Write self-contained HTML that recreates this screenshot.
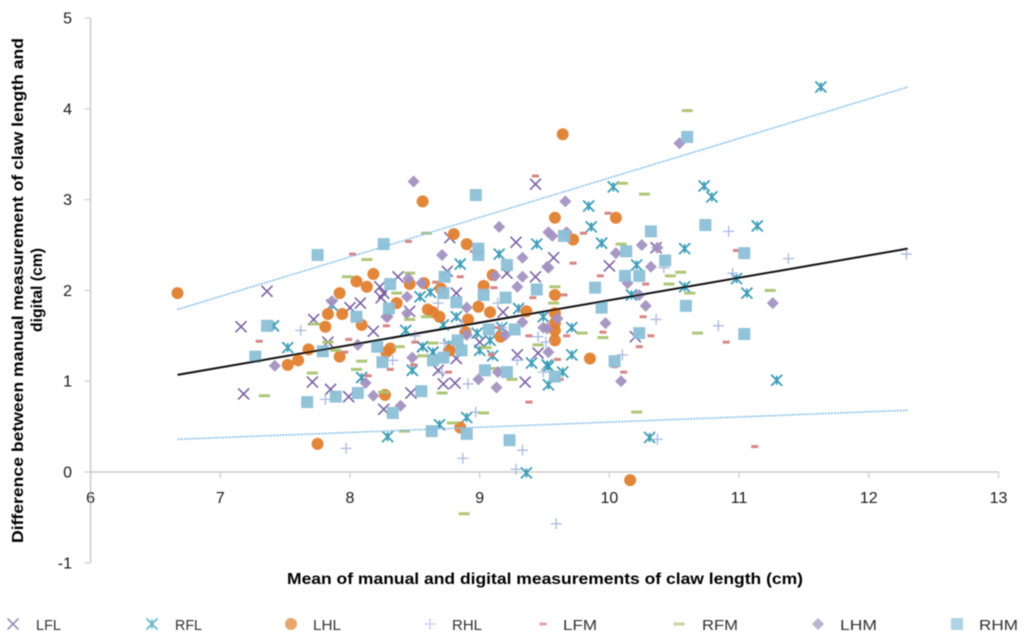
<!DOCTYPE html>
<html lang="en">
<head>
<meta charset="utf-8">
<title>Claw length scatter chart</title>
<style>
html,body{margin:0;padding:0;background:#fff;}
body{width:1024px;height:639px;overflow:hidden;}
svg{display:block;}
text{font-family:"Liberation Sans",sans-serif;}
</style>
</head>
<body>
<svg id="chart" xmlns="http://www.w3.org/2000/svg" width="1024" height="639" viewBox="0 0 1024 639">
  <defs>
    <filter id="soft" x="0" y="0" width="1024" height="639" filterUnits="userSpaceOnUse" primitiveUnits="userSpaceOnUse">
      <feGaussianBlur stdDeviation="0.55"/>
    </filter>
  </defs>
  <rect width="1024" height="639" fill="#fff"/>
  <g id="root" filter="url(#soft)">
    <g id="axes"></g>
    <g id="marks"></g>
    <g id="lines"></g>
    <text x="287" y="584" font-size="15.5" font-weight="700" fill="#000" textLength="516" lengthAdjust="spacingAndGlyphs">Mean of manual and digital measurements of claw length (cm)</text>
    <text transform="translate(23,543) rotate(-90)" font-size="15.5" font-weight="700" fill="#000" textLength="505" lengthAdjust="spacingAndGlyphs">Difference between manual measurement of claw length and</text>
    <text transform="translate(42,332) rotate(-90)" font-size="15.5" font-weight="700" fill="#000" textLength="84" lengthAdjust="spacingAndGlyphs">digital (cm)</text>
    <g id="legend"></g>
  </g>
</svg>
<script>
const xTicks = [6, 7, 8, 9, 10, 11, 12, 13];
const yTicks = [-1, 0, 1, 2, 3, 4, 5];

const LFL = [[7.36,1.99],[7.16,1.60],[7.72,1.68],[8.08,1.86],[8.00,1.81],[8.18,1.55],[8.23,2.04],[8.24,1.92],[7.83,1.43],[7.18,0.86],[7.71,0.99],[7.85,0.91],[7.99,0.83],[8.26,0.69],[8.77,2.58],[9.28,2.53],[8.75,2.21],[9.21,2.19],[9.43,2.15],[8.37,2.15],[8.82,1.97],[8.46,1.77],[9.18,1.76],[8.26,1.97],[8.56,1.38],[8.64,1.32],[9.00,1.43],[9.29,1.29],[8.72,0.97],[8.81,0.98],[8.47,0.87],[9.35,0.99],[9.45,1.31],[8.82,1.25],[8.68,1.12],[9.57,2.36],[10.00,2.27],[10.36,2.47],[10.20,1.49],[9.43,3.17]];
const RFL = [[11.63,4.24],[10.73,3.15],[10.79,3.03],[11.14,2.71],[10.98,2.13],[11.06,1.97],[11.29,1.01],[10.03,3.14],[9.84,2.93],[9.86,2.70],[9.94,2.52],[10.21,2.28],[10.58,2.46],[10.17,1.95],[10.58,2.04],[9.44,2.51],[9.15,2.40],[8.85,2.29],[9.30,1.80],[9.49,1.71],[8.54,1.93],[8.62,1.98],[8.82,1.71],[8.43,1.56],[8.98,1.53],[9.17,1.59],[8.56,1.38],[8.64,1.32],[7.86,1.84],[7.52,1.37],[7.41,1.61],[8.09,1.04],[8.29,0.39],[8.48,1.12],[8.69,0.52],[8.90,0.60],[9.36,-0.01],[9.40,1.20],[9.53,0.96],[9.52,1.18],[9.71,1.59],[9.71,1.29],[9.53,1.16],[9.64,1.10],[10.31,0.38],[9.08,1.45],[8.72,1.62],[8.76,1.40],[9.00,1.34],[9.10,1.28]];
const LHL = [[6.67,1.97],[7.75,0.31],[8.56,2.98],[9.64,3.72],[10.16,-0.09],[9.58,2.80],[10.05,2.80],[8.80,2.62],[8.90,2.51],[9.85,1.25],[8.85,0.49],[8.27,0.85],[8.18,2.18],[8.05,2.10],[7.92,1.97],[8.13,2.04],[7.83,1.74],[7.94,1.74],[7.81,1.60],[8.09,1.62],[7.92,1.27],[7.68,1.35],[7.60,1.23],[7.52,1.18],[8.31,1.36],[8.28,1.32],[8.36,1.86],[8.46,2.07],[8.57,2.08],[8.70,2.02],[9.10,2.17],[9.03,2.05],[8.99,1.82],[9.08,1.76],[9.36,1.77],[8.91,1.68],[8.60,1.79],[8.69,1.71],[8.89,1.54],[9.16,1.49],[8.77,1.34],[9.72,2.56],[9.58,1.95],[9.58,1.75],[9.58,1.64],[9.58,1.56],[9.58,1.45],[8.64,1.76]];
const RHL = [[10.92,2.65],[11.38,2.35],[12.29,2.40],[10.95,2.19],[10.84,1.61],[10.36,1.68],[10.10,1.29],[9.51,1.43],[9.49,1.10],[10.42,2.25],[7.62,1.56],[7.81,0.80],[7.97,0.26],[8.91,0.97],[8.97,0.66],[9.33,0.24],[8.87,0.15],[9.28,0.03],[8.33,1.23],[9.29,1.23],[8.71,1.09],[9.59,-0.57],[10.37,0.36],[8.73,1.42],[8.68,1.86],[9.45,1.49],[9.14,1.86],[9.17,1.59],[8.86,1.62],[8.50,1.50]];
const LFM = [[8.02,2.40],[8.45,2.54],[7.30,1.44],[7.99,1.46],[8.28,1.61],[7.96,1.32],[8.85,2.15],[8.95,2.43],[9.11,2.03],[9.41,1.92],[8.66,2.09],[8.50,1.43],[9.38,1.50],[9.13,1.59],[9.72,2.30],[9.80,2.63],[9.99,2.85],[9.93,2.16],[10.28,2.07],[10.26,1.71],[9.65,1.95],[9.95,1.54],[9.67,1.50],[10.32,1.50],[10.23,1.38],[9.60,1.24],[10.04,1.16],[10.11,1.10],[9.62,1.02],[10.98,2.44],[10.90,1.43],[11.12,0.28],[8.14,1.06],[8.31,1.13],[8.76,1.10],[9.38,0.77],[9.09,1.29],[8.49,1.18],[9.43,3.26]];
const RFM = [[8.13,2.34],[8.59,2.63],[7.98,2.15],[7.73,1.63],[7.83,1.43],[7.89,1.34],[7.34,0.84],[7.71,1.09],[8.09,1.22],[8.05,1.13],[8.26,0.88],[8.46,2.19],[8.36,1.97],[8.59,1.71],[8.46,1.68],[8.64,1.42],[8.38,1.38],[8.56,1.28],[9.45,1.40],[9.05,1.37],[10.10,3.18],[10.27,3.06],[10.09,2.51],[10.55,2.20],[10.47,2.16],[10.46,2.07],[10.62,1.97],[9.58,2.04],[9.57,1.86],[9.79,1.53],[9.95,1.48],[10.68,1.53],[10.21,0.66],[10.60,3.98],[8.88,-0.46],[11.24,2.00],[8.42,0.45],[8.71,0.87],[8.79,0.54],[9.03,0.65],[9.25,1.02],[9.12,1.14]];
const LHM = [[8.49,3.20],[8.71,2.39],[7.86,1.88],[8.06,1.40],[8.29,1.71],[7.42,1.17],[8.12,0.98],[8.18,0.84],[9.33,2.36],[9.12,2.16],[9.33,2.15],[9.29,2.04],[9.52,2.26],[8.45,2.13],[8.55,2.08],[8.44,1.93],[8.90,1.81],[8.44,1.75],[8.28,1.71],[9.33,1.65],[9.20,1.51],[9.49,1.59],[8.90,1.51],[9.66,2.98],[9.53,2.64],[9.56,2.60],[9.67,2.64],[10.05,2.41],[10.25,2.50],[10.37,2.47],[10.32,2.26],[10.14,2.08],[9.53,2.25],[10.23,1.95],[10.28,1.83],[9.60,1.69],[9.52,1.58],[9.97,1.64],[9.53,1.32],[10.09,1.00],[11.26,1.86],[10.54,3.62],[8.99,1.02],[9.13,0.93],[8.39,0.73],[9.14,1.10],[8.48,1.26],[9.15,2.70]];
const RHM = [[10.60,3.69],[8.97,3.05],[7.75,2.39],[7.36,1.61],[7.27,1.27],[8.26,2.51],[8.05,1.71],[7.79,1.33],[8.21,1.38],[8.99,2.46],[8.99,2.39],[9.21,2.28],[8.73,2.15],[8.31,2.07],[9.44,2.01],[8.72,1.97],[9.03,1.95],[9.20,1.92],[8.82,1.87],[8.30,1.80],[9.07,1.57],[9.27,1.57],[8.83,1.45],[8.86,1.34],[10.32,2.65],[10.74,2.72],[9.65,2.60],[10.13,2.43],[10.43,2.33],[10.12,2.16],[10.23,2.16],[9.89,2.03],[9.94,1.81],[10.59,1.83],[10.23,1.53],[10.04,1.22],[9.58,1.05],[11.04,2.41],[11.04,1.52],[7.67,0.77],[7.89,0.83],[8.06,0.87],[8.25,1.21],[8.33,0.65],[8.55,0.89],[8.63,0.45],[8.90,0.42],[9.23,0.35],[9.04,1.12],[9.21,1.10],[8.64,1.23],[8.72,1.26]];

const trendMean = [[6.67,1.07],[12.30,2.46]];
const trendUpper = [[6.67,1.79],[12.30,4.24]];
const trendLower = [[6.67,0.36],[12.30,0.68]];

const NS = 'http://www.w3.org/2000/svg';
function sx(v){ return 90.6 + (v - 6) * 129.7; }
function sy(v){ return 472 - v * 90.8; }

function mk(parent, tag, attrs, text){
  const el = document.createElementNS(NS, tag);
  for (const k in attrs) el.setAttribute(k, attrs[k]);
  if (text !== undefined) el.textContent = text;
  parent.appendChild(el);
  return el;
}

const glyphs = {
  x(g, cx, cy){
    const d = `M${cx-5.5} ${cy-5.5}L${cx+5.5} ${cy+5.5}M${cx-5.5} ${cy+5.5}L${cx+5.5} ${cy-5.5}`;
    mk(g, 'path', {d: d, stroke: '#74589e', 'stroke-width': 1.6, fill: 'none'});
  },
  star(g, cx, cy){
    const d = `M${cx-5.5} ${cy-5.5}L${cx+5.5} ${cy+5.5}M${cx-5.5} ${cy+5.5}L${cx+5.5} ${cy-5.5}M${cx} ${cy-4.5}V${cy+4.5}`;
    mk(g, 'path', {d: d, stroke: '#3398b2', 'stroke-width': 1.8, fill: 'none'});
  },
  circle(g, cx, cy){
    mk(g, 'circle', {cx: cx, cy: cy, r: 6, fill: '#e07f2e'});
  },
  plus(g, cx, cy){
    const d = `M${cx-5.5} ${cy}H${cx+5.5}M${cx} ${cy-5.5}V${cy+5.5}`;
    mk(g, 'path', {d: d, stroke: '#a4b5de', 'stroke-width': 1.3, fill: 'none'});
  },
  redDash(g, cx, cy){
    mk(g, 'rect', {x: cx-3.5, y: cy-1.5, width: 7, height: 3, fill: '#d47f7c'});
  },
  greenDash(g, cx, cy){
    mk(g, 'rect', {x: cx-5.5, y: cy-1.5, width: 11, height: 3, fill: '#a9c470'});
  },
  diamond(g, cx, cy){
    mk(g, 'path', {d: `M${cx} ${cy-6}L${cx+6} ${cy}L${cx} ${cy+6}L${cx-6} ${cy}Z`, fill: '#a392c0'});
  },
  square(g, cx, cy){
    mk(g, 'rect', {x: cx-6, y: cy-6, width: 12, height: 12, fill: '#8cc0d6'});
  }
};

/* Axes */
const axes = document.getElementById('axes');
const yAxisLine = mk(axes, 'line', {x1: sx(6), x2: sx(6), y1: sy(5), y2: sy(-1), stroke: '#cccccc', 'stroke-width': 1.5});


const xAxisLine = mk(axes, 'line', {x1: sx(6), x2: sx(13), y1: sy(0), y2: sy(0), stroke: '#cccccc', 'stroke-width': 1.5});



yTicks.forEach(function(t){
  const tick = mk(axes, 'line', {x1: sx(6) - 6, x2: sx(6), y1: sy(t), y2: sy(t), stroke: '#cccccc', 'stroke-width': 1.2});
  
  
  const label = mk(axes, 'text', {x: 72, y: sy(t) + 5.5, 'font-size': 16, 'text-anchor': 'end', fill: '#1a1a1a'}, String(t));
  
  
});
xTicks.forEach(function(t){
  const tick = mk(axes, 'line', {x1: sx(t), x2: sx(t), y1: sy(0), y2: sy(0) + 6, stroke: '#cccccc', 'stroke-width': 1.2});
  
  
  const label = mk(axes, 'text', {x: sx(t), y: 503, 'font-size': 16, 'text-anchor': 'middle', fill: '#1a1a1a'}, String(t));
  
  
});

/* Series */
const seriesNames = ['LFL', 'RFL', 'LHL', 'RHL', 'LFM', 'RFM', 'LHM', 'RHM'];
const seriesData = [LFL, RFL, LHL, RHL, LFM, RFM, LHM, RHM];
const seriesGlyphs = ['x', 'star', 'circle', 'plus', 'redDash', 'greenDash', 'diamond', 'square'];
const marksRoot = document.getElementById('marks');
seriesNames.forEach(function(name, i){
  const g = mk(marksRoot, 'g', {});
  
  
  seriesData[i].forEach(function(p){
    const pt = mk(g, 'g', {opacity: 0.95});
    
    
    glyphs[seriesGlyphs[i]](pt, sx(p[0]), sy(p[1]));
  });
});

/* Trend lines */
const linesRoot = document.getElementById('lines');
function drawLine(data, name, color, width, dash){
  const attrs = {x1: sx(data[0][0]), y1: sy(data[0][1]), x2: sx(data[1][0]), y2: sy(data[1][1]), stroke: color, 'stroke-width': width};
  if (dash) attrs['stroke-dasharray'] = dash;
  const l = mk(linesRoot, 'line', attrs);
  
  
}
drawLine(trendUpper, 'upper-limit-line', '#7fbde8', 1.5, '2 1');
drawLine(trendLower, 'lower-limit-line', '#7fbde8', 1.5, '2 1');
drawLine(trendMean, 'mean-trend-line', '#111', 2);

/* Legend */
const legendMarkerX = [13, 152, 291, 430, 543, 679, 818, 957];
const legendTextX = [36, 175, 313, 452, 563, 702, 840, 979];
const legendTextW = [25, 27, 28, 30, 34, 36, 37, 39];
const legendRoot = document.getElementById('legend');
seriesNames.forEach(function(name, i){
  const entry = mk(legendRoot, 'g', {});
  
  
  const m = mk(entry, 'g', {opacity: 0.7});
  
  
  glyphs[seriesGlyphs[i]](m, legendMarkerX[i], 624);
  const t = mk(entry, 'text', {x: legendTextX[i], y: 630, 'font-size': 15, fill: '#333', textLength: legendTextW[i], lengthAdjust: 'spacingAndGlyphs'}, name);
  
  
});
</script>
</body>
</html>
